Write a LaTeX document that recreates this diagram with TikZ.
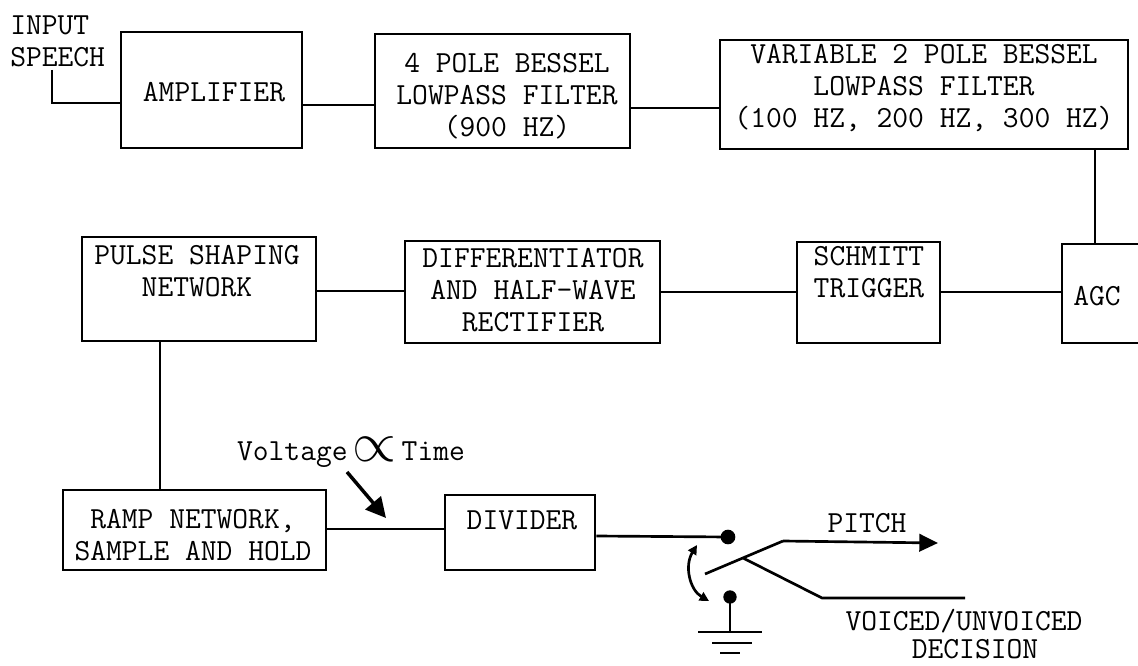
\documentclass[tikz,border=0pt]{standalone}
\usepackage{fontspec}
\usepackage{graphicx}
\usetikzlibrary{fit,arrows.meta}
\begin{document}
\begin{tikzpicture}[x=0.75pt,y=-0.75pt,
  box/.style={draw, line width=2pt, inner sep=0pt},
  txt/.style={inner sep=0pt, align=center, font=\ttfamily\fontsize{23}{24}\selectfont},
  wire/.style={line width=2pt},
  bigdot/.style={circle, fill, inner sep=0pt, minimum size=11pt},
  bighead/.style={-{Triangle[length=14pt,width=13pt]}},
  smallhead/.style={{Triangle[length=7pt,width=7pt]}-{Triangle[length=7pt,width=7pt]}}]
\clip (0,0) rectangle (1138,666);
\fill[white] (0,0) rectangle (1138,666);

% boxes
\node[box, fit={(121,32) (302,148)}] (amp) {};
\node[box, fit={(375,34) (630,148)}] (pole) {};
\node[box, fit={(720,40) (1128,149)}] (var) {};
\node[box, fit={(1062,244) (1170,343)}] (agc) {};
\node[box, fit={(797,242) (940,343)}] (schm) {};
\node[box, fit={(405,241) (660,343)}] (diff) {};
\node[box, fit={(82,237) (316,341)}] (pulse) {};
\node[box, fit={(63,490) (326,570)}] (ramp) {};
\node[box, fit={(445,495) (595,570)}] (divd) {};

% texts
\node[txt, align=left, anchor=west] (inp) at (10,41) {INPUT\\SPEECH};
\node[txt] (ampT) at (214,92) {AMPLIFIER};
\node[txt] (poleT) at (507,96) {4 POLE BESSEL\\LOWPASS FILTER\\(900 HZ)};
\node[txt] (varT) at (924,88) {VARIABLE 2 POLE BESSEL\\LOWPASS FILTER\\(100 HZ, 200 HZ, 300 HZ)};
\node[txt] (pulseT) at (197,271) {PULSE SHAPING\\NETWORK};
\node[txt] (diffT) at (533,290) {DIFFERENTIATOR\\AND HALF-WAVE\\RECTIFIER};
\node[txt] (schmT) at (869,272) {SCHMITT\\TRIGGER};
\node[txt] (agcT) at (1097,296) {AGC};
\node[txt] (rampT) at (193,535) {RAMP NETWORK,\\SAMPLE AND HOLD};
\node[txt] (divT) at (522,520) {DIVIDER};
\node[txt, anchor=base] (volt) at (351,460) {Voltage\,\raisebox{-1pt}{\scalebox{1.7}{$\propto$}}\,Time};
\node[txt, anchor=base] (pitch) at (867,532) {PITCH};
\node[txt, anchor=base] (vu) at (964,630) {VOICED/UNVOICED};
\node[txt, anchor=base] (dec) at (975,658) {DECISION};

% switch parts
\node[bigdot] (dtop) at (728,537) {};
\node[bigdot, minimum size=10pt] (dbot) at (730,597) {};
\coordinate (inTop) at (52,70);
\coordinate (gnd) at (730,632);
\coordinate (bl0) at (705,574);
\coordinate (bl1) at (783,541);
\coordinate (pend) at (938,543);
\coordinate (br0) at (743,558);
\coordinate (br1) at (822,598);
\coordinate (br2) at (965,598);
\coordinate (ca1) at (697,545);
\coordinate (ca2) at (709,601);
\coordinate (va0) at (347,472);
\coordinate (va1) at (386,518);

% connectors
\draw[wire] (inTop) |- (amp.west |- 0,103);
\draw[wire] (amp.east |- 0,105) -- (pole.west |- 0,105);
\draw[wire] (pole.east |- 0,108) -- (var.west |- 0,108);
\draw[wire] (var.south -| 1095,0) -- (agc.north -| 1095,0);
\draw[wire] (agc.west |- 0,292) -- (schm.east |- 0,292);
\draw[wire] (schm.west |- 0,292) -- (diff.east |- 0,292);
\draw[wire] (diff.west |- 0,291) -- (pulse.east |- 0,291);
\draw[wire] (pulse.south -| 160,0) -- (ramp.north -| 160,0);
\draw[wire] (ramp.east |- 0,529) -- (divd.west |- 0,529);
\draw[wire] (divd.east |- 0,536) -- (dtop.center);

\draw[wire] (bl0) -- (bl1);
\draw[wire, bighead] (bl1) -- (pend);
\draw[wire] (br0) -- (br1) -- (br2);
\draw[wire, smallhead] (ca1) .. controls (684,566) and (690,590) .. (ca2);

\draw[wire] (dbot.center) -- (gnd);
\draw[wire] (698,632) -- (762,632);
\draw[wire] (712,643) -- (752,643);
\draw[wire] (720,653) -- (740,653);

\draw[line width=2.6pt, -{Triangle[length=15pt,width=15pt]}] (va0) -- (va1);
\end{tikzpicture}
\end{document}
